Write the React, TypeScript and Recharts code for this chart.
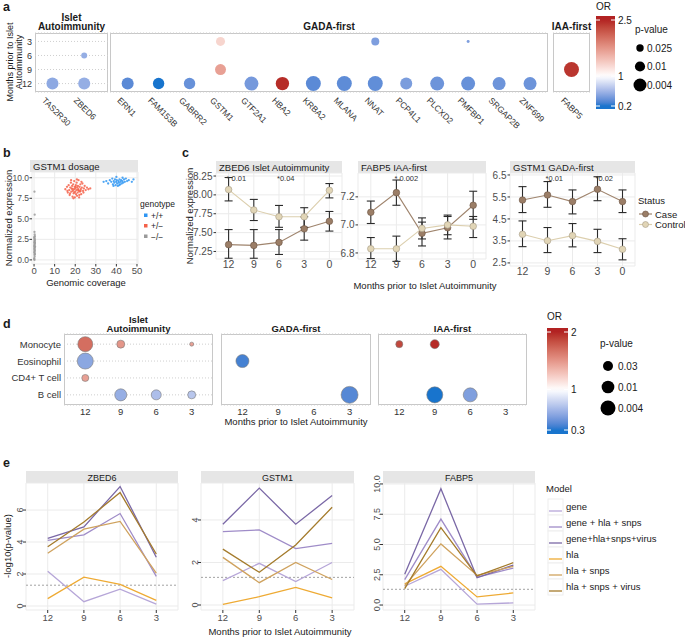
import React from "react";
import {
  ScatterChart,
  Scatter,
  LineChart,
  Line,
  XAxis,
  YAxis,
  CartesianGrid,
  ErrorBar,
  ReferenceDot,
  ReferenceLine,
} from "recharts";

// ---------- a: gene hits (name, month, OR, p-value) ----------
const genesIslet = ["TAS2R30", "ZBED6"];
const genesGada = [
  "ERN1", "FAM153B", "GABRR2", "GSTM1", "GTF2A1", "HBA2", "KRBA2",
  "MLANA", "NNAT", "PCP4L1", "PLCXD2", "PMFBP1", "SRGAP2B", "ZNF699",
];
const genesIaa = ["FABP5"];
const monthsA = [3, 6, 9, 12];

type Hit = [string, number, number, number];
const hitsIslet: Hit[] = [
  ["TAS2R30", 12, 0.52, 0.0055],
  ["ZBED6", 6, 0.55, 0.04],
  ["ZBED6", 12, 0.55, 0.0055],
];
const hitsGada: Hit[] = [
  ["ERN1", 12, 0.34, 0.0055],
  ["FAM153B", 12, 0.2, 0.0067],
  ["GABRR2", 12, 0.38, 0.0067],
  ["GSTM1", 3, 1.3, 0.0148],
  ["GSTM1", 9, 1.68, 0.0077],
  ["GTF2A1", 12, 0.43, 0.0029],
  ["HBA2", 12, 2.45, 0.0035],
  ["KRBA2", 12, 0.34, 0.0021],
  ["MLANA", 12, 0.35, 0.0021],
  ["NNAT", 3, 0.46, 0.0206],
  ["NNAT", 12, 0.36, 0.0021],
  ["PCP4L1", 12, 0.45, 0.0055],
  ["PLCXD2", 12, 0.4, 0.0029],
  ["PMFBP1", 3, 0.46, 0.107],
  ["PMFBP1", 12, 0.38, 0.0029],
  ["SRGAP2B", 12, 0.4, 0.004],
  ["ZNF699", 12, 0.4, 0.004],
];
const hitsIaa: Hit[] = [["FABP5", 9, 2.4, 0.0021]];
const orTicksA = [2.5, 1, 0.2];
const pKeysA = [0.025, 0.01, 0.004];

// ---------- b: GSTM1 dosage (coverage, expression) ----------
const homPts = [
  [33.8, 9.5], [35.1, 9.6], [36.0, 9.3], [36.8, 9.7], [37.5, 9.5], [38.0, 9.9],
  [38.3, 9.2], [38.7, 9.6], [39.0, 9.4], [39.3, 9.8], [39.6, 9.1], [39.9, 9.5],
  [40.2, 9.7], [40.4, 9.3], [40.7, 9.0], [41.0, 9.6], [41.2, 9.4], [41.5, 9.8],
  [41.8, 9.2], [42.0, 9.5], [42.3, 9.7], [42.6, 9.3], [42.9, 9.6], [43.3, 9.4],
  [43.7, 9.8], [44.1, 9.5], [44.6, 9.9], [45.2, 9.6], [46.0, 9.7], [47.5, 9.5],
  [48.3, 9.8], [40.0, 10.1], [43.0, 10.0], [38.6, 9.0], [41.4, 9.1],
];
const hetPts = [
  [15.2, 8.6], [16.0, 8.9], [16.4, 8.2], [16.8, 9.1], [17.1, 8.5], [17.3, 7.9],
  [17.6, 8.8], [17.9, 9.4], [18.1, 8.3], [18.3, 8.7], [18.5, 9.0], [18.7, 7.7],
  [18.9, 8.4], [19.0, 9.2], [19.2, 8.1], [19.4, 8.6], [19.5, 9.6], [19.7, 8.9],
  [19.8, 7.6], [20.0, 8.3], [20.1, 8.7], [20.3, 9.1], [20.4, 8.0], [20.6, 8.5],
  [20.7, 9.4], [20.9, 7.8], [21.0, 8.8], [21.2, 8.2], [21.3, 9.0], [21.5, 8.6],
  [21.6, 9.7], [21.8, 8.4], [22.0, 7.9], [22.1, 8.9], [22.3, 8.3], [22.5, 9.2],
  [22.7, 8.6], [22.9, 8.0], [23.2, 8.8], [23.5, 9.3], [23.8, 8.4], [24.2, 8.7],
  [24.6, 9.0], [25.1, 8.5], [25.7, 8.8], [26.4, 8.6], [27.3, 8.7], [19.1, 7.5],
  [20.8, 9.8], [18.0, 9.7], [21.9, 7.6], [17.5, 8.1], [23.0, 9.5], [16.2, 8.4],
  [24.0, 8.2], [20.2, 8.9], [19.6, 8.2], [21.4, 8.5], [22.6, 8.4], [18.6, 8.6],
];
const nullPts = [
  [0.2, 0.0], [0.1, 0.2], [0.3, 0.4], [0.2, 0.6], [0.4, 0.7], [0.1, 0.9],
  [0.3, 1.0], [0.2, 1.1], [0.4, 1.2], [0.1, 1.3], [0.3, 1.4], [0.2, 1.5],
  [0.5, 1.6], [0.1, 1.7], [0.3, 1.8], [0.2, 1.9], [0.4, 2.0], [0.1, 2.1],
  [0.3, 2.2], [0.2, 2.3], [0.4, 2.4], [0.2, 2.5], [0.3, 2.6], [0.1, 2.7],
  [0.2, 2.8], [0.4, 2.9], [0.3, 3.1], [0.2, 3.4], [0.3, 5.5], [0.2, 8.3],
  [0.3, 0.8], [0.2, 1.6], [0.4, 2.1], [0.1, 0.1],
];
const genotypes = ["+/+", "+/−", "−/−"];
const coverageTicks = [0, 10, 20, 30, 40, 50];
const exprTicks = [0, 2.5, 5, 7.5, 10];

// ---------- c: expression by month, mean and interval ----------
const monthsC = [12, 9, 6, 3, 0];
const zbed6Case = [7.34, 7.33, 7.37, 7.55, 7.65];
const zbed6CaseLo = [7.16, 7.16, 7.21, 7.4, 7.52];
const zbed6CaseHi = [7.54, 7.54, 7.54, 7.71, 7.78];
const zbed6Ctrl = [8.07, 7.8, 7.71, 7.71, 8.06];
const zbed6CtrlLo = [7.92, 7.66, 7.57, 7.57, 7.96];
const zbed6CtrlHi = [8.23, 7.94, 7.86, 7.83, 8.15];
const zbed6Stars: [number, string][] = [[12, "* 0.01"], [6, "*0.04"]];

const fabp5Case = [7.09, 7.23, 6.94, 6.98, 7.14];
const fabp5CaseLo = [7.01, 7.14, 6.85, 6.9, 7.04];
const fabp5CaseHi = [7.17, 7.32, 7.02, 7.06, 7.24];
const fabp5Ctrl = [6.83, 6.83, 6.975, 7.0, 6.99];
const fabp5CtrlLo = [6.76, 6.74, 6.9, 6.93, 6.91];
const fabp5CtrlHi = [6.91, 6.92, 7.05, 7.07, 7.06];
const fabp5Stars: [number, string][] = [[9, "* 0.002"]];

const gstm1Case = [5.36, 5.59, 5.29, 5.85, 5.29];
const gstm1CaseLo = [4.79, 5.03, 4.73, 5.33, 4.79];
const gstm1CaseHi = [5.97, 6.2, 5.82, 6.42, 5.82];
const gstm1Ctrl = [3.8, 3.51, 3.74, 3.48, 3.12];
const gstm1CtrlLo = [3.24, 2.97, 3.23, 2.97, 2.64];
const gstm1CtrlHi = [4.41, 4.11, 4.29, 4.03, 3.6];
const gstm1Stars: [number, string][] = [[9, "*0.01"], [3, "*0.02"]];
const statuses = ["Case", "Control"];

// ---------- d: cell types (name, month, OR, p-value) ----------
const cells = ["Monocyte", "Eosinophil", "CD4+ T cell", "B cell"];
const monthsD = [12, 9, 6, 3];
const cellIslet: Hit[] = [
  ["Monocyte", 12, 1.69, 0.004],
  ["Monocyte", 9, 1.5, 0.068],
  ["Monocyte", 3, 1.45, 0.34],
  ["Eosinophil", 12, 0.57, 0.0026],
  ["CD4+ T cell", 12, 1.45, 0.1],
  ["B cell", 9, 0.61, 0.013],
  ["B cell", 6, 0.69, 0.03],
  ["B cell", 3, 0.73, 0.068],
];
const cellGada: Hit[] = [
  ["Eosinophil", 12, 0.37, 0.0089],
  ["B cell", 3, 0.41, 0.0018],
];
const cellIaa: Hit[] = [
  ["Monocyte", 12, 1.86, 0.1],
  ["Monocyte", 9, 1.97, 0.045],
  ["B cell", 9, 0.3, 0.0026],
  ["B cell", 6, 0.53, 0.0059],
];
const orTicksD = [2, 1, 0.3];
const pKeysD = [0.03, 0.01, 0.004];

// ---------- e: -log10(p) per model, months 12,9,6,3 ----------
const monthsE = [12, 9, 6, 3];
const models = [
  "gene", "gene + hla + snps", "gene+hla+snps+virus",
  "hla", "hla + snps", "hla + snps + virus",
];
const zbed6LogP = [
  [2.17, 0.27, 1.05, 0.12],
  [4.1, 4.45, 5.78, 1.85],
  [4.23, 4.95, 7.47, 3.05],
  [0.46, 1.8, 1.35, 0.35],
  [3.3, 4.8, 5.29, 2.05],
  [3.7, 5.25, 7.09, 3.25],
];
const gstm1LogP = [
  [1.15, 1.96, 1.1, 2.0],
  [3.45, 3.53, 2.65, 2.9],
  [3.8, 5.5, 3.8, 5.15],
  [0.03, 0.39, 0.83, 0.34],
  [2.24, 1.05, 2.0, 1.2],
  [2.63, 1.54, 2.82, 4.6],
];
const fabp5LogP = [
  [1.55, 2.95, 0.07, 0.18],
  [2.1, 7.1, 2.3, 3.05],
  [2.55, 9.6, 2.25, 3.3],
  [1.75, 3.2, 0.67, 1.0],
  [1.6, 5.05, 2.45, 3.2],
  [1.35, 6.4, 2.4, 3.5],
];
const sigLine = 1.3;

// ---------- styling ----------
const FONT = '"Liberation Sans", Arial, Helvetica, sans-serif';
const INK = "#1a1a1a";
const AXIS = "#4d4d4d";
const BORDER = "#c8c8c8";
const STRIP = "#e6e6e6";
const GRID = "#ebebeb";
const genoColors = ["#2f96f3", "#f4624a", "#9a9a9a"];
const caseLine = "#9f846d";
const ctrlLine = "#dccfae";
const caseFill = "#9b7e67";
const ctrlFill = "#e1d5b6";
const modelColors = ["#b6a6d8", "#9f8cc8", "#7a68a6", "#eeaa33", "#cfa25e", "#a47b2c"];

// OR colour: white at 1, dodgerblue3 below, firebrick above (Lab mix)
const lin = (c: number) => {
  c /= 255;
  return c <= 0.04045 ? c / 12.92 : ((c + 0.055) / 1.055) ** 2.4;
};
const gam = (c: number) => {
  const v = c <= 0.0031308 ? 12.92 * c : 1.055 * c ** (1 / 2.4) - 0.055;
  return Math.round(Math.max(0, Math.min(1, v)) * 255);
};
function toLab(hex: string) {
  const n = parseInt(hex.slice(1), 16);
  const [r, g, b] = [(n >> 16) & 255, (n >> 8) & 255, n & 255].map(lin);
  const x = (0.4124 * r + 0.3576 * g + 0.1805 * b) / 0.95047;
  const y = 0.2126 * r + 0.7152 * g + 0.0722 * b;
  const z = (0.0193 * r + 0.1192 * g + 0.9505 * b) / 1.08883;
  const f = (t: number) => (t > 0.008856 ? Math.cbrt(t) : 7.787 * t + 16 / 116);
  return [116 * f(y) - 16, 500 * (f(x) - f(y)), 200 * (f(y) - f(z))];
}
function fromLab([L, a, b]: number[]) {
  const fy = (L + 16) / 116;
  const fx = fy + a / 500;
  const fz = fy - b / 200;
  const inv = (t: number) => (t ** 3 > 0.008856 ? t ** 3 : (t - 16 / 116) / 7.787);
  const x = inv(fx) * 0.95047;
  const y = inv(fy);
  const z = inv(fz) * 1.08883;
  const r = 3.2406 * x - 1.5372 * y - 0.4986 * z;
  const g = -0.9689 * x + 1.8758 * y + 0.0415 * z;
  const bb = 0.0557 * x - 0.204 * y + 1.057 * z;
  return `rgb(${gam(r)},${gam(g)},${gam(bb)})`;
}
const LAB_BLUE = toLab("#1874CD");
const LAB_RED = toLab("#B22222");
function orColor(v: number, lo: number, hi: number) {
  const t = v < 1 ? Math.min(1, (1 - v) / (1 - lo)) : Math.min(1, (v - 1) / (hi - 1));
  const e = v < 1 ? LAB_BLUE : LAB_RED;
  return fromLab([100 + (e[0] - 100) * t, e[1] * t, e[2] * t]);
}

// dot radius from p-value
const rA = (p: number) => Math.max(1.2, -1.9 + 3.5 * -Math.log10(p));
const rD = (p: number) => Math.max(1.2, 0.68 + 2.84 * -Math.log10(p));

// ---------- layout ----------
type Rect = { x: number; y: number; w: number; h: number };
const PL = 72, PT = 10, PR = 30, PB = 48;
const M = { top: PT, right: PR, bottom: 0, left: 0 };

function Frame({ r, children }: { r: Rect; children: (w: number, h: number) => React.ReactNode }) {
  return (
    <div style={{ position: "absolute", left: r.x - PL, top: r.y - PT }}>
      {children(r.w + PL + PR, r.h + PT + PB)}
    </div>
  );
}

const facetsA = [
  { title: ["Islet", "Autoimmunity"], genes: genesIslet, hits: hitsIslet, rect: { x: 35, y: 33, w: 73, h: 59 }, pad: [0.55, 1.75], showY: true },
  { title: ["GADA-first"], genes: genesGada, hits: hitsGada, rect: { x: 110, y: 33, w: 438, h: 59 }, pad: [0.57, 13.58], showY: false },
  { title: ["IAA-first"], genes: genesIaa, hits: hitsIaa, rect: { x: 553, y: 33, w: 37, h: 59 }, pad: [0.6, 0.6], showY: false },
];
const rectB = { x: 32, y: 172, w: 106, h: 92 };
const facetsC = [
  { title: "ZBED6 Islet Autoimmunity", rect: { x: 216, y: 173, w: 126, h: 86 }, dom: [7.15, 8.29], ticks: [7.25, 7.5, 7.75, 8.0, 8.25], fmt: (v: number) => v.toFixed(2),
    cs: zbed6Case, csLo: zbed6CaseLo, csHi: zbed6CaseHi, ct: zbed6Ctrl, ctLo: zbed6CtrlLo, ctHi: zbed6CtrlHi, stars: zbed6Stars },
  { title: "FABP5 IAA-first", rect: { x: 358, y: 173, w: 128, h: 86 }, dom: [6.757, 7.37], ticks: [6.8, 7.0, 7.2], fmt: (v: number) => v.toFixed(1),
    cs: fabp5Case, csLo: fabp5CaseLo, csHi: fabp5CaseHi, ct: fabp5Ctrl, ctLo: fabp5CtrlLo, ctHi: fabp5CtrlHi, stars: fabp5Stars },
  { title: "GSTM1 GADA-first", rect: { x: 510, y: 173, w: 125, h: 93 }, dom: [2.36, 6.59], ticks: [2.5, 3.5, 4.5, 5.5, 6.5], fmt: (v: number) => v.toFixed(1),
    cs: gstm1Case, csLo: gstm1CaseLo, csHi: gstm1CaseHi, ct: gstm1Ctrl, ctLo: gstm1CtrlLo, ctHi: gstm1CtrlHi, stars: gstm1Stars },
];
const facetsD = [
  { title: ["Islet", "Autoimmunity"], hits: cellIslet, rect: { x: 64, y: 334, w: 149, h: 71 }, showY: true },
  { title: ["GADA-first"], hits: cellGada, rect: { x: 221, y: 334, w: 150, h: 71 }, showY: false },
  { title: ["IAA-first"], hits: cellIaa, rect: { x: 378, y: 334, w: 149, h: 71 }, showY: false },
];
const facetsE = [
  { title: "ZBED6", vals: zbed6LogP, rect: { x: 26, y: 483, w: 152, h: 127 }, dom: [-0.25, 7.69], ticks: [0, 2, 4, 6], fmt: (v: number) => String(v) },
  { title: "GSTM1", vals: gstm1LogP, rect: { x: 201, y: 483, w: 153, h: 127 }, dom: [-0.235, 5.74], ticks: [0, 2, 4], fmt: (v: number) => String(v) },
  { title: "FABP5", vals: fabp5LogP, rect: { x: 383, y: 483, w: 152, h: 127 }, dom: [-0.41, 10.08], ticks: [0, 2.5, 5, 7.5, 10], fmt: (v: number) => v.toFixed(1) },
];

type Bar = { x: number; top: number; bottom: number; w: number; vHi: number; yHi: number; vLo: number; yLo: number; lo: number; hi: number };
const cbA: Bar = { x: 596, top: 16, bottom: 109, w: 19, vHi: 2.5, yHi: 20, vLo: 0.2, yLo: 106, lo: 0.2, hi: 2.5 };
const cbD: Bar = { x: 547, top: 328, bottom: 434, w: 21, vHi: 2, yHi: 332, vLo: 0.3, yLo: 430, lo: 0.3, hi: 2 };
const cbY = (c: Bar, v: number) => c.yHi + ((c.vHi - v) * (c.yLo - c.yHi)) / (c.vHi - c.vLo);
const cbV = (c: Bar, y: number) => c.vHi - ((y - c.yHi) * (c.vHi - c.vLo)) / (c.yLo - c.yHi);

// ---------- small render helpers ----------
const Txt = ({ x, y, s = 9.5, bold = false, a = "start", rot, c = INK, children }: any) => (
  <text x={x} y={y} fontSize={s} fontWeight={bold ? "bold" : "normal"} textAnchor={a} fill={c}
    transform={rot ? `rotate(${rot} ${x} ${y})` : undefined}>
    {children}
  </text>
);

const bubble = (rOf: (p: number) => number, lo: number, hi: number, edge: string) => (p: any) => (
  <circle cx={p.cx} cy={p.cy} r={rOf(p.payload.p)} fill={orColor(p.payload.or, lo, hi)} stroke={edge} strokeWidth={0.6} />
);

const geneTick = (names: string[]) => (p: any) => {
  const x = p.x - 11;
  const y = p.y + 9;
  return (
    <text x={x} y={y} transform={`rotate(45 ${x} ${y})`} fontSize={8.5} fill="#333" textAnchor="start">
      {names[p.payload.value]}
    </text>
  );
};

const cellTick = (p: any) => (
  <text x={p.x} y={p.y + 3.5} textAnchor="end" fontSize={9.5} fill="#333">{cells[p.payload.value]}</text>
);

const vTick = (fmt: (v: number) => string) => (p: any) => (
  <text x={p.x + 1} y={p.y} transform={`rotate(-90 ${p.x + 1} ${p.y})`} textAnchor="middle" fontSize={9} fill={AXIS}>
    {fmt(p.payload.value)}
  </text>
);

const starShape = (label: string) => (p: any) => (
  <text x={p.cx - 2} y={p.cy + 8} fontSize={7.5} fill="#333">{label}</text>
);

const gradStops = (c: Bar) =>
  Array.from({ length: 31 }, (_, k) => {
    const y = c.top + (k / 30) * (c.bottom - c.top);
    return <stop key={k} offset={k / 30} stopColor={orColor(cbV(c, y), c.lo, c.hi)} />;
  });

function ColorBar({ c, ticks, id }: { c: Bar; ticks: number[]; id: string }) {
  return (
    <g>
      <rect x={c.x} y={c.top} width={c.w} height={c.bottom - c.top} fill={`url(#${id})`} />
      {ticks.map((v) => (
        <g key={v}>
          <line x1={c.x} x2={c.x + 4} y1={cbY(c, v)} y2={cbY(c, v)} stroke="#fff" />
          <line x1={c.x + c.w - 4} x2={c.x + c.w} y1={cbY(c, v)} y2={cbY(c, v)} stroke="#fff" />
          <Txt x={c.x + c.w + 3} y={cbY(c, v) + 3.5} s={10}>{v}</Txt>
        </g>
      ))}
    </g>
  );
}

function Backdrop() {
  return (
    <svg width={685} height={638} style={{ position: "absolute", left: 0, top: 0 }}>
      <defs>
        <linearGradient id="gradA" x1="0" y1="0" x2="0" y2="1">{gradStops(cbA)}</linearGradient>
        <linearGradient id="gradD" x1="0" y1="0" x2="0" y2="1">{gradStops(cbD)}</linearGradient>
      </defs>

      {/* panel letters */}
      <Txt x={3} y={11} s={12.5} bold>a</Txt>
      <Txt x={3} y={157} s={12.5} bold>b</Txt>
      <Txt x={182} y={157} s={12.5} bold>c</Txt>
      <Txt x={3} y={328} s={12.5} bold>d</Txt>
      <Txt x={3} y={467} s={12.5} bold>e</Txt>

      {/* a */}
      {facetsA.map((f) => (
        <g key={f.title.join()}>
          <rect x={f.rect.x + 0.5} y={f.rect.y + 0.5} width={f.rect.w - 1} height={f.rect.h - 1} fill="none" stroke={BORDER} />
          {f.title.map((t, i) => (
            <Txt key={t} x={f.rect.x + f.rect.w / 2} y={30 - (f.title.length - 1 - i) * 9.5} s={10} bold a="middle">{t}</Txt>
          ))}
        </g>
      ))}
      <Txt x={13} y={62} s={9} a="middle" rot={-90}>Months prior to Islet</Txt>
      <Txt x={22} y={62} s={9} a="middle" rot={-90}>Autoimmunity</Txt>
      <Txt x={596} y={10} s={10}>OR</Txt>
      <ColorBar c={cbA} ticks={orTicksA} id="gradA" />
      <Txt x={635} y={33} s={10}>p-value</Txt>
      {pKeysA.map((p, i) => (
        <g key={p}>
          <circle cx={640} cy={48 + i * 18.5} r={rA(p)} fill="#000" />
          <Txt x={647} y={48 + i * 18.5 + 3.5} s={10}>{p}</Txt>
        </g>
      ))}

      {/* b */}
      <rect x={30} y={160} width={108} height={12} fill={STRIP} />
      <Txt x={33} y={169.5} s={9.5}>GSTM1 dosage</Txt>
      <Txt x={11.5} y={218} s={9.5} a="middle" rot={-90}>Normalized expression</Txt>
      <Txt x={86} y={286} s={9.5} a="middle">Genomic coverage</Txt>
      <Txt x={140} y={207} s={8.5}>genotype</Txt>
      {genotypes.map((g, i) => (
        <g key={g}>
          <rect x={144} y={213.5 + i * 10.5} width={3.5} height={3.5} fill={genoColors[i]} />
          <Txt x={151} y={218.5 + i * 10.5} s={8.5}>{g}</Txt>
        </g>
      ))}

      {/* c */}
      {facetsC.map((f) => (
        <g key={f.title}>
          <rect x={f.rect.x} y={161} width={f.rect.w} height={12} fill={STRIP} />
          <Txt x={f.rect.x + 3} y={170.5} s={9.5}>{f.title}</Txt>
        </g>
      ))}
      <Txt x={192.5} y={216} s={9.5} a="middle" rot={-90}>Normalized expression</Txt>
      <Txt x={425} y={289} s={9.5} a="middle">Months prior to Islet Autoimmunity</Txt>
      <Txt x={638} y={204} s={9.5}>Status</Txt>
      {statuses.map((s, i) => (
        <g key={s}>
          <line x1={639} x2={652} y1={214 + i * 10.5} y2={214 + i * 10.5} stroke={i ? ctrlLine : caseLine} strokeWidth={1.2} />
          <circle cx={645.5} cy={214 + i * 10.5} r={3} fill={i ? ctrlFill : caseFill} stroke={i ? "#a49a86" : "#6b5443"} strokeWidth={0.6} />
          <Txt x={655} y={217.5 + i * 10.5} s={9.5}>{s}</Txt>
        </g>
      ))}

      {/* d */}
      {facetsD.map((f) => (
        <g key={f.title.join()}>
          <rect x={f.rect.x + 0.5} y={f.rect.y + 0.5} width={f.rect.w - 1} height={f.rect.h - 1} fill="none" stroke={BORDER} />
          {f.title.map((t, i) => (
            <Txt key={t} x={f.rect.x + f.rect.w / 2} y={332 - (f.title.length - 1 - i) * 9.5} s={9.5} bold a="middle">{t}</Txt>
          ))}
        </g>
      ))}
      <Txt x={296} y={425} s={9.5} a="middle">Months prior to Islet Autoimmunity</Txt>
      <Txt x={547} y={320} s={10}>OR</Txt>
      <ColorBar c={cbD} ticks={orTicksD} id="gradD" />
      <Txt x={600} y={347} s={10}>p-value</Txt>
      {pKeysD.map((p, i) => (
        <g key={p}>
          <circle cx={608} cy={366 + i * 21} r={rD(p)} fill="#000" />
          <Txt x={618} y={366 + i * 21 + 3.5} s={10}>{p}</Txt>
        </g>
      ))}

      {/* e */}
      {facetsE.map((f) => (
        <g key={f.title}>
          <rect x={f.rect.x} y={471} width={f.rect.w} height={12} fill={STRIP} />
          <Txt x={f.rect.x + f.rect.w / 2} y={480.5} s={9} a="middle">{f.title}</Txt>
        </g>
      ))}
      <Txt x={11} y={546} s={9.5} a="middle" rot={-90}>-log10(p-value)</Txt>
      <Txt x={280} y={635} s={9.5} a="middle">Months prior to Islet Autoimmunity</Txt>
      <Txt x={546} y={492} s={9.5}>Model</Txt>
      {models.map((m, i) => {
        const y = 507 + i * 16;
        return (
          <g key={m}>
            <rect x={548} y={y - 8} width={15} height={16} fill="#fff" stroke="#eeeeee" />
            <line x1={549} x2={562} y1={y + 4} y2={y + 4} stroke={modelColors[i]} strokeWidth={1.3} />
            <Txt x={566} y={y + 3} s={9.5}>{m}</Txt>
          </g>
        );
      })}
    </svg>
  );
}

// ---------- chart facets ----------
function GeneFacet({ f }: { f: (typeof facetsA)[number] }) {
  const pts = f.hits.map(([g, m, or, p]) => ({ x: f.genes.indexOf(g), y: m, or, p }));
  return (
    <Frame r={f.rect}>
      {(w, h) => (
        <ScatterChart width={w} height={h} margin={M}>
          <CartesianGrid vertical={false} stroke="#cfcfcf" strokeDasharray="1 2" />
          <XAxis type="number" dataKey="x" domain={[-f.pad[0], f.pad[1]]} ticks={f.genes.map((_, i) => i)} interval={0}
            allowDataOverflow height={PB} axisLine={false} tickLine={false} tickSize={0} tickMargin={0} tick={geneTick(f.genes)} />
          <YAxis type="number" dataKey="y" domain={[1.2, 13.8]} reversed ticks={monthsA} interval={0} allowDataOverflow
            width={PL} axisLine={false} tickLine={false} tickSize={0} tickMargin={3}
            tick={f.showY ? { fontSize: 9, fill: "#333" } : false} />
          <Scatter data={pts} isAnimationActive={false} shape={bubble(rA, cbA.lo, cbA.hi, "none")} />
        </ScatterChart>
      )}
    </Frame>
  );
}

const xy = (arr: number[][]) => arr.map(([x, y]) => ({ x, y }));
const tinyDot = (color: string) => (p: any) => <circle cx={p.cx} cy={p.cy} r={1.15} fill={color} fillOpacity={0.85} />;

function DosagePanel() {
  return (
    <Frame r={rectB}>
      {(w, h) => (
        <ScatterChart width={w} height={h} margin={M}>
          <CartesianGrid stroke={GRID} />
          <XAxis type="number" dataKey="x" domain={[-1, 50.5]} ticks={coverageTicks} interval={0} allowDataOverflow height={PB}
            axisLine={false} tickSize={2.5} tickMargin={1} tickLine={{ stroke: "#333" }} tick={{ fontSize: 9.5, fill: AXIS }} />
          <YAxis type="number" dataKey="y" domain={[-0.5, 10.7]} ticks={exprTicks} interval={0} allowDataOverflow width={PL}
            axisLine={false} tickSize={2.5} tickMargin={0.5} tickLine={{ stroke: "#333" }} tick={{ fontSize: 8.5, fill: AXIS }}
            tickFormatter={(v: number) => v.toFixed(1)} />
          <Scatter data={xy(nullPts)} isAnimationActive={false} shape={tinyDot(genoColors[2])} />
          <Scatter data={xy(hetPts)} isAnimationActive={false} shape={tinyDot(genoColors[1])} />
          <Scatter data={xy(homPts)} isAnimationActive={false} shape={tinyDot(genoColors[0])} />
        </ScatterChart>
      )}
    </Frame>
  );
}

function ExprFacet({ f }: { f: (typeof facetsC)[number] }) {
  const rows = monthsC.map((m, i) => ({
    m,
    cs: f.cs[i],
    csE: [f.cs[i] - f.csLo[i], f.csHi[i] - f.cs[i]],
    ct: f.ct[i],
    ctE: [f.ct[i] - f.ctLo[i], f.ctHi[i] - f.ct[i]],
  }));
  return (
    <Frame r={f.rect}>
      {(w, h) => (
        <LineChart width={w} height={h} data={rows} margin={M}>
          <CartesianGrid stroke={GRID} />
          <XAxis type="number" dataKey="m" domain={[-1.5, 13.5]} reversed ticks={monthsC} interval={0} allowDataOverflow height={PB}
            axisLine={false} tickLine={false} tickSize={0} tickMargin={2} tick={{ fontSize: 10.5, fill: AXIS }} />
          <YAxis type="number" domain={f.dom} ticks={f.ticks} interval={0} allowDataOverflow width={PL}
            axisLine={false} tickSize={2.5} tickMargin={1} tickLine={{ stroke: "#333" }} tick={{ fontSize: 10, fill: AXIS }}
            tickFormatter={f.fmt} />
          <Line dataKey="cs" stroke={caseLine} strokeWidth={1.1} isAnimationActive={false}
            dot={{ r: 3.3, fill: caseFill, stroke: "#6b5443", strokeWidth: 0.6 }}>
            <ErrorBar dataKey="csE" width={4} stroke="#2b2b2b" strokeWidth={1.1} direction="y" isAnimationActive={false} />
          </Line>
          <Line dataKey="ct" stroke={ctrlLine} strokeWidth={1.1} isAnimationActive={false}
            dot={{ r: 3.3, fill: ctrlFill, stroke: "#a49a86", strokeWidth: 0.6 }}>
            <ErrorBar dataKey="ctE" width={4} stroke="#2b2b2b" strokeWidth={1.1} direction="y" isAnimationActive={false} />
          </Line>
          {f.stars.map(([m, label]) => (
            <ReferenceDot key={label} x={m} y={f.dom[1]} r={0} ifOverflow="visible" shape={starShape(label)} />
          ))}
        </LineChart>
      )}
    </Frame>
  );
}

function CellFacet({ f }: { f: (typeof facetsD)[number] }) {
  const pts = f.hits.map(([c, m, or, p]) => ({ x: m, y: cells.indexOf(c), or, p }));
  return (
    <Frame r={f.rect}>
      {(w, h) => (
        <ScatterChart width={w} height={h} margin={M}>
          <CartesianGrid vertical={false} stroke="#cfcfcf" strokeDasharray="1 2" />
          <XAxis type="number" dataKey="x" domain={[1.2, 13.8]} reversed ticks={monthsD} interval={0} allowDataOverflow height={PB}
            axisLine={false} tickLine={false} tickSize={0} tickMargin={3} tick={{ fontSize: 9.5, fill: "#333" }} />
          <YAxis type="number" dataKey="y" domain={[-0.6, 3.6]} reversed ticks={[0, 1, 2, 3]} interval={0} allowDataOverflow
            width={PL} axisLine={false} tickLine={false} tickSize={0} tickMargin={3}
            tick={f.showY ? cellTick : false} />
          <Scatter data={pts} isAnimationActive={false} shape={bubble(rD, cbD.lo, cbD.hi, "#7a7a7a")} />
        </ScatterChart>
      )}
    </Frame>
  );
}

function LogPFacet({ f }: { f: (typeof facetsE)[number] }) {
  const rows = monthsE.map((m, i) => {
    const r: Record<string, number> = { m };
    f.vals.forEach((s, j) => (r["s" + j] = s[i]));
    return r;
  });
  return (
    <Frame r={f.rect}>
      {(w, h) => (
        <LineChart width={w} height={h} data={rows} margin={M}>
          <CartesianGrid stroke={GRID} />
          <XAxis type="number" dataKey="m" domain={[1.2, 13.8]} reversed ticks={monthsE} interval={0} allowDataOverflow height={PB}
            axisLine={false} tickSize={3} tickMargin={1} tickLine={{ stroke: "#333" }} tick={{ fontSize: 9.5, fill: AXIS }} />
          <YAxis type="number" domain={f.dom} ticks={f.ticks} interval={0} allowDataOverflow width={PL}
            axisLine={false} tickSize={3} tickMargin={1} tickLine={{ stroke: "#333" }} tick={vTick(f.fmt)} />
          <ReferenceLine y={sigLine} stroke="#8c8c8c" strokeDasharray="2 2" strokeWidth={0.8} />
          {models.map((k, j) => (
            <Line key={k} dataKey={"s" + j} stroke={modelColors[j]} strokeWidth={1.3} dot={false} isAnimationActive={false} />
          ))}
        </LineChart>
      )}
    </Frame>
  );
}

export default function App() {
  return (
    <div style={{ position: "absolute", left: 0, top: 0, width: 685, height: 638, background: "#fff", fontFamily: FONT, overflow: "hidden" }}>
      <Backdrop />
      {facetsA.map((f) => <GeneFacet key={f.title.join()} f={f} />)}
      <DosagePanel />
      {facetsC.map((f) => <ExprFacet key={f.title} f={f} />)}
      {facetsD.map((f) => <CellFacet key={f.title.join()} f={f} />)}
      {facetsE.map((f) => <LogPFacet key={f.title} f={f} />)}
    </div>
  );
}
